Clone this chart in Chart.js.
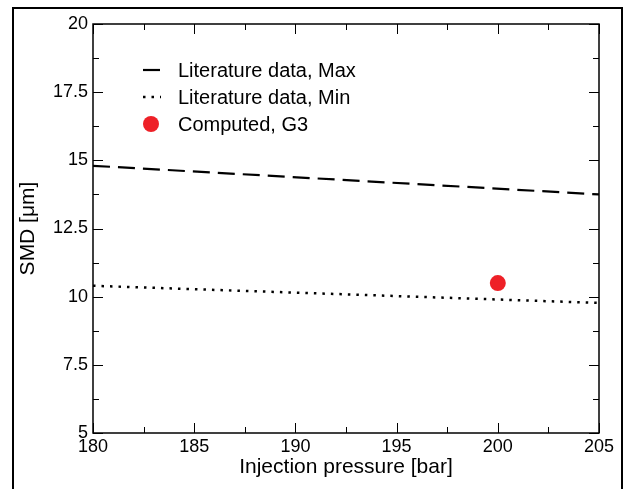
<!DOCTYPE html>
<html>
<head>
<meta charset="utf-8">
<script src="https://cdn.jsdelivr.net/npm/chart.js@4/dist/chart.umd.min.js"></script>
<style>
  html, body { margin: 0; padding: 0; background: #fff; }
  #wrap { width: 627px; height: 489px; position: relative; }
</style>
</head>
<body>
<div id="wrap"><canvas id="mycanvas" width="627" height="489"></canvas></div>
<script>
// data
const maxPressure = [180, 205];
const maxSmd = [14.8, 13.75];
const minPressure = [180, 205];
const minSmd = [10.4, 9.77];
const computedPressure = [200];
const computedSmd = [10.5];
const seriesLabels = ['Literature data, Max', 'Literature data, Min', 'Computed, G3'];

const toPoints = (xs, ys) => xs.map((x, i) => ({ x: x, y: ys[i] }));

function createChart() {
    const ctx = document.getElementById('mycanvas').getContext('2d');

    // outer frame, axis box, inward ticks and legend
    const framePlugin = {
        id: 'framePlugin',
        beforeDraw: chart => {
            const c = chart.ctx;
            c.save();
            c.fillStyle = '#fff';
            c.fillRect(0, 0, chart.width, chart.height);
            c.strokeStyle = '#000';
            c.lineWidth = 2;
            c.beginPath();
            c.moveTo(13, chart.height);
            c.lineTo(13, 8);
            c.lineTo(622, 8);
            c.lineTo(622, chart.height);
            c.stroke();
            c.restore();
        },
        afterDraw: chart => {
            const c = chart.ctx;
            const { left, right, top, bottom } = chart.chartArea;
            const xs = chart.scales.x, ys = chart.scales.y;
            c.save();
            c.strokeStyle = '#000';
            c.lineWidth = 1.5;
            c.strokeRect(left, top, right - left, bottom - top);
            c.lineWidth = 1;
            c.beginPath();
            for (let v = 180; v <= 205; v += 2.5) {
                const len = (v % 5 === 0) ? 10 : 6;
                const px = Math.round(xs.getPixelForValue(v)) + 0.5;
                c.moveTo(px, bottom); c.lineTo(px, bottom - len);
                c.moveTo(px, top); c.lineTo(px, top + len);
            }
            for (let v = 5; v <= 20; v += 1.25) {
                const len = (Math.abs(v / 2.5 - Math.round(v / 2.5)) < 1e-6) ? 10 : 6;
                const py = Math.round(ys.getPixelForValue(v)) + 0.5;
                c.moveTo(left, py); c.lineTo(left + len, py);
                c.moveTo(right, py); c.lineTo(right - len, py);
            }
            c.stroke();

            // legend
            const rows = [70, 97, 124];
            c.font = '20px "Liberation Sans", Arial, sans-serif';
            c.textBaseline = 'middle';
            chart.data.datasets.forEach((ds, i) => {
                const y = rows[i];
                if (ds.showLine === false) {
                    c.fillStyle = ds.backgroundColor;
                    c.beginPath();
                    c.arc(151, y, 8, 0, Math.PI * 2);
                    c.fill();
                } else {
                    c.strokeStyle = ds.borderColor;
                    c.lineWidth = ds.borderWidth;
                    c.setLineDash(ds.borderDash || []);
                    c.beginPath();
                    c.moveTo(143, y);
                    c.lineTo(161, y);
                    c.stroke();
                    c.setLineDash([]);
                }
                c.fillStyle = '#000';
                c.fillText(ds.label, 178, y + 1);
            });
            c.restore();
        }
    };

    const myChart = new Chart(ctx, {
        type: 'scatter',
        data: {
            datasets: [
                {
                    label: seriesLabels[0],
                    data: toPoints(maxPressure, maxSmd),
                    showLine: true,
                    borderColor: '#000',
                    backgroundColor: '#000',
                    borderWidth: 2.2,
                    borderDash: [17, 8],
                    pointRadius: 0,
                },
                {
                    label: seriesLabels[1],
                    data: toPoints(minPressure, minSmd),
                    showLine: true,
                    borderColor: '#000',
                    backgroundColor: '#000',
                    borderWidth: 2.5,
                    borderDash: [2.5, 6],
                    pointRadius: 0,
                },
                {
                    label: seriesLabels[2],
                    data: toPoints(computedPressure, computedSmd),
                    showLine: false,
                    backgroundColor: '#ee2027',
                    borderColor: '#ee2027',
                    borderWidth: 0,
                    pointRadius: 8,
                },
            ]
        },
        options: {
            responsive: false,
            animation: false,
            layout: { padding: { top: 24, right: 28, left: 0, bottom: 0 } },
            plugins: {
                legend: { display: false },
                tooltip: { enabled: false },
            },
            scales: {
                x: {
                    type: 'linear',
                    min: 180,
                    max: 205,
                    grid: { display: false, drawTicks: false },
                    border: { display: false },
                    ticks: {
                        stepSize: 5,
                        padding: 3,
                        color: '#000',
                        font: { family: '"Liberation Sans", Arial, sans-serif', size: 18 },
                    },
                    title: {
                        display: true,
                        text: 'Injection pressure [bar]',
                        color: '#000',
                        font: { family: '"Liberation Sans", Arial, sans-serif', size: 21 },
                        padding: { top: 0, bottom: 9 },
                    },
                    afterFit: scale => { scale.height = 56; },
                },
                y: {
                    type: 'linear',
                    min: 5,
                    max: 20,
                    grid: { display: false, drawTicks: false },
                    border: { display: false },
                    ticks: {
                        stepSize: 2.5,
                        padding: 5,
                        color: '#000',
                        font: { family: '"Liberation Sans", Arial, sans-serif', size: 18 },
                    },
                    title: {
                        display: true,
                        text: 'SMD [μm]',
                        color: '#000',
                        font: { family: '"Liberation Sans", Arial, sans-serif', size: 21 },
                        padding: { top: 16, bottom: 0 },
                    },
                    afterFit: scale => { scale.width = 93; },
                },
            },
        },
        plugins: [framePlugin],
    });
}

createChart();
</script>
</body>
</html>
